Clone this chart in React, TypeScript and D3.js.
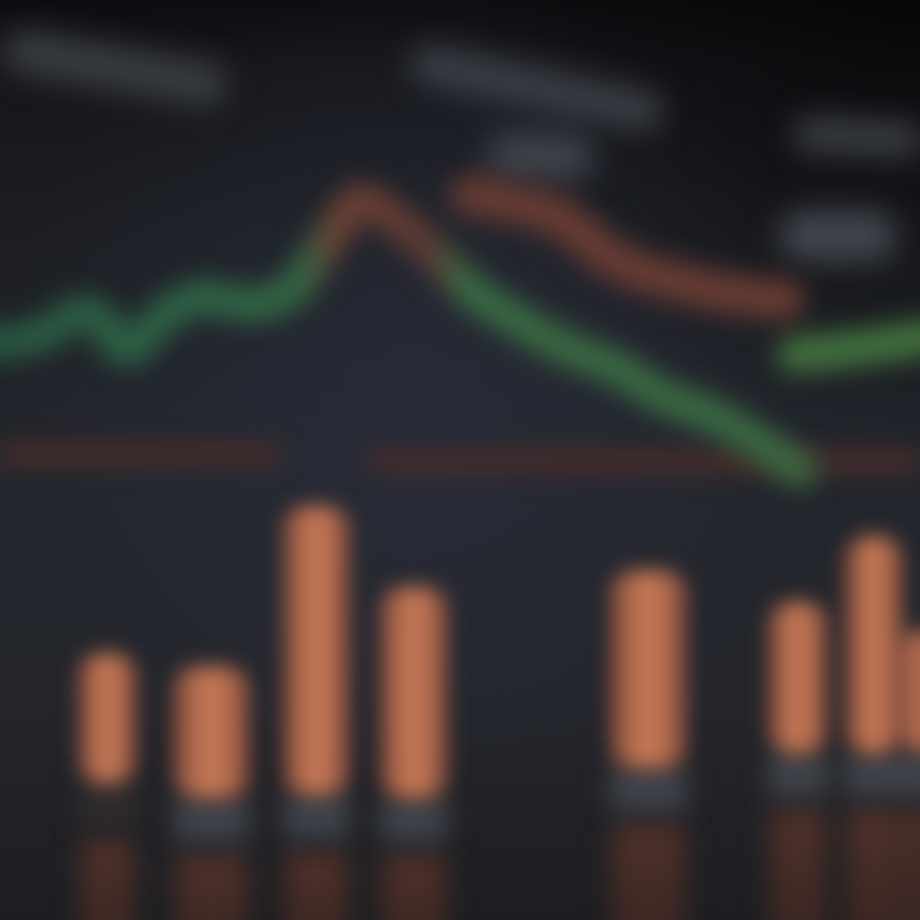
import React, { useEffect } from "react";
import * as d3 from "d3";

// ---- data (chart units) ----
// main trend line (green, orange around the peak)
const trendX = [-0.5, 2, 4.5, 6.35, 8.25, 10, 12.5, 14.5, 16, 17.25, 18, 19.5, 21, 22.5, 23.5, 25, 28, 31, 33, 35.5, 38, 40];
const trendY = [45, 48.3, 56, 43.3, 55, 61, 58.3, 62.7, 76, 88.3, 93.3, 88.3, 80, 70, 63.3, 56.7, 45, 36.7, 28.3, 21.7, 12.3, 3.3];
// second series (red-orange)
const secondX = [23.5, 26, 28, 30, 31.5, 34, 36, 38, 39.25];
const secondY = [95, 91.7, 87.3, 76.7, 70.7, 65.7, 62.7, 60.7, 60];
// third series (green, right side)
const thirdX = [39.75, 42, 44, 46.5];
const thirdY = [41.7, 43.3, 45, 47.8];
// reference lines
const refLevel = [8.3, 6];
const refFrom = [0, 18.5];
const refTo = [14, 46];
// bars (floating ranges)
const barFrom = [3.9, 8.65, 14.15, 19, 30.5, 38.4, 42.25, 45.15];
const barTo = [6.85, 12.5, 17.5, 22.4, 34.35, 41.4, 45.15, 46.9];
const barHigh = [49, 44.5, 98, 71, 76.5, 66, 88, 57];
const barLow = [8, 3, 4, 3, 13, 18, 18, 18];

const W = 920;
const H = 920;

export default function App() {
  useEffect(() => {
    document.body.style.margin = "0";
    document.body.style.background = "#1c1e22";
  }, []);

  const x = d3.scaleLinear().domain([0, 46]).range([0, W]);
  const yLine = d3.scaleLinear().domain([0, 100]).range([480, 180]);
  const yBar = d3.scaleLinear().domain([0, 100]).range([800, 500]);

  const line = d3
    .line<[number, number]>()
    .x((d) => x(d[0]))
    .y((d) => yLine(d[1]))
    .curve(d3.curveCatmullRom.alpha(0.5));

  const trend = trendX.map((v, i) => [v, trendY[i]] as [number, number]);
  const second = secondX.map((v, i) => [v, secondY[i]] as [number, number]);
  const third = thirdX.map((v, i) => [v, thirdY[i]] as [number, number]);

  const off = (v: number) => x(v) / W;

  const bars = barFrom.map((f, i) => ({
    x0: x(f),
    x1: x(barTo[i]),
    top: yBar(barHigh[i]),
    bottom: yBar(barLow[i]),
  }));

  // blurred title / label blocks (illegible text in the picture)
  const blocks = [
    { cx: 115, cy: 68, w: 228, h: 44, a: 10, c: "#393c42" },
    { cx: 537, cy: 88, w: 258, h: 40, a: 12, c: "#3b3e45" },
    { cx: 540, cy: 157, w: 108, h: 46, a: 2, c: "#40434b" },
    { cx: 858, cy: 137, w: 132, h: 36, a: 3, c: "#3a3d43" },
    { cx: 838, cy: 236, w: 118, h: 52, a: 0, c: "#42454d" },
  ];

  const blur = (px: number) => ({ filter: `blur(${px}px)` });

  return (
    <svg
      width={W}
      height={H}
      style={{ position: "absolute", left: 0, top: 0, display: "block" }}
    >
      <defs>
        <linearGradient id="bg" x1="0" y1="0" x2="0" y2="1">
          <stop offset="0" stopColor="#0c0d0f" />
          <stop offset="0.07" stopColor="#15161a" />
          <stop offset="0.25" stopColor="#1c1e23" />
          <stop offset="0.5" stopColor="#23262d" />
          <stop offset="0.75" stopColor="#24262c" />
          <stop offset="1" stopColor="#1d1e22" />
        </linearGradient>
        <radialGradient id="glow" cx="0.45" cy="0.42" r="0.45">
          <stop offset="0" stopColor="#2c3040" stopOpacity="0.6" />
          <stop offset="1" stopColor="#2c3040" stopOpacity="0" />
        </radialGradient>
        <radialGradient id="cornerShade" cx="1" cy="0" r="0.5">
          <stop offset="0" stopColor="#000" stopOpacity="0.55" />
          <stop offset="1" stopColor="#000" stopOpacity="0" />
        </radialGradient>
        <linearGradient id="trendGrad" gradientUnits="userSpaceOnUse" x1="0" y1="0" x2={W} y2="0">
          <stop offset="0" stopColor="#2a5a42" />
          <stop offset={off(10)} stopColor="#2f6546" />
          <stop offset={off(15.3)} stopColor="#346843" />
          <stop offset={off(16.6)} stopColor="#6e4334" />
          <stop offset={off(21.5)} stopColor="#5e3a33" />
          <stop offset={off(23.2)} stopColor="#3b6c44" />
          <stop offset="1" stopColor="#3b6a40" />
        </linearGradient>
        <linearGradient id="barGrad" x1="0" y1="0" x2="1" y2="0">
          <stop offset="0" stopColor="#8a4e3e" />
          <stop offset="0.45" stopColor="#c67a56" />
          <stop offset="0.55" stopColor="#c67a56" />
          <stop offset="1" stopColor="#8c4e3e" />
        </linearGradient>
        <linearGradient id="reflGrad" x1="0" y1="0" x2="0" y2="1">
          <stop offset="0" stopColor="#58342a" stopOpacity="0.9" />
          <stop offset="1" stopColor="#442821" stopOpacity="0.6" />
        </linearGradient>
      </defs>

      <rect width={W} height={H} fill="url(#bg)" />
      <rect width={W} height={H} fill="url(#glow)" />
      <rect width={W} height={H} fill="url(#cornerShade)" />

      {/* blurred label blocks */}
      <g style={blur(15)}>
        {blocks.map((b, i) => (
          <rect
            key={i}
            x={-b.w / 2}
            y={-b.h / 2}
            width={b.w}
            height={b.h}
            rx={b.h / 2}
            fill={b.c}
            transform={`translate(${b.cx},${b.cy}) rotate(${b.a})`}
          />
        ))}
      </g>

      {/* reference lines */}
      <g style={blur(11)}>
        {refLevel.map((v, i) => (
          <line
            key={i}
            x1={x(refFrom[i])}
            x2={x(refTo[i])}
            y1={yLine(v)}
            y2={yLine(v)}
            stroke="#472d2b"
            strokeWidth={26}
            opacity={0.9}
          />
        ))}
      </g>

      {/* lines */}
      <g style={blur(13)} fill="none" strokeLinecap="round" strokeLinejoin="round">
        <path d={line(second) || ""} stroke="#673c33" strokeWidth={40} />
        <path d={line(trend) || ""} stroke="url(#trendGrad)" strokeWidth={34} />
        <path d={line(third) || ""} stroke="#43723f" strokeWidth={36} />
      </g>

      {/* bar reflections */}
      <g style={blur(13)}>
        {bars.map((b, i) => (
          <rect
            key={i}
            x={b.x0 + 2}
            y={b.bottom + 62}
            width={b.x1 - b.x0 - 4}
            height={H - b.bottom}
            rx={10}
            fill="url(#reflGrad)"
          />
        ))}
      </g>

      {/* gray bases */}
      <g style={blur(12)}>
        {bars.map((b, i) => (
          <rect
            key={i}
            x={b.x0}
            y={b.bottom + 6}
            width={b.x1 - b.x0}
            height={44}
            fill={i === 0 ? "#302c2c" : "#40434a"}
          />
        ))}
      </g>

      {/* bars */}
      <g style={blur(10)}>
        {bars.map((b, i) => (
          <rect
            key={i}
            x={b.x0 + 1}
            y={b.top}
            width={b.x1 - b.x0 - 2}
            height={b.bottom - b.top + 8}
            rx={22}
            fill="url(#barGrad)"
          />
        ))}
      </g>
    </svg>
  );
}
